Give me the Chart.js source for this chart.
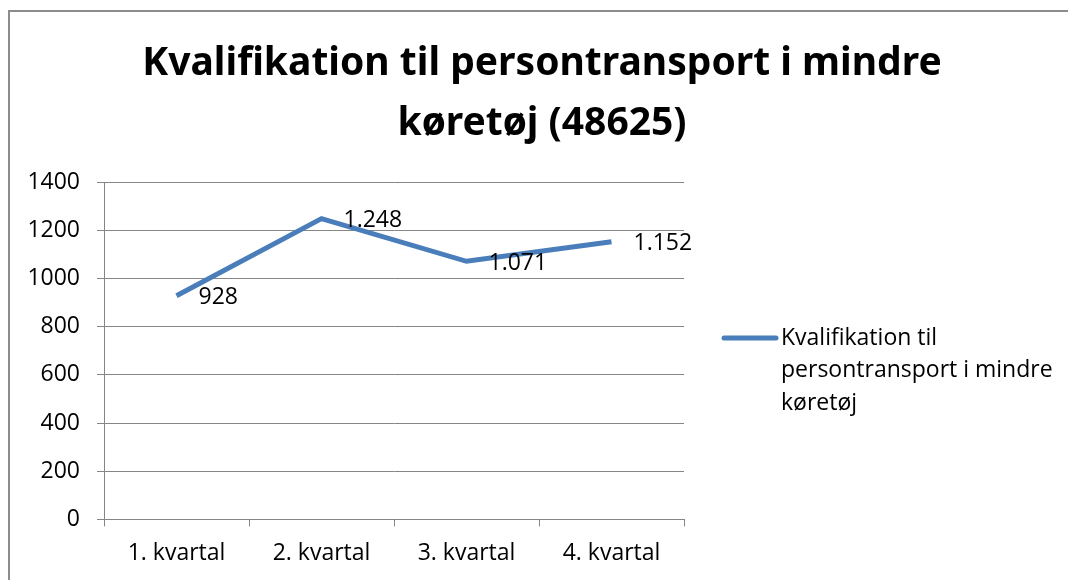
<!DOCTYPE html>
<html>
<head>
<meta charset="utf-8">
<script src="https://cdn.jsdelivr.net/npm/chart.js@4"></script>
<style>
    html, body { margin: 0; padding: 0; background: #fff; overflow: hidden; }
    #wrap { width: 1068px; height: 580px; position: relative; }
</style>
</head>
<body>
<div id="wrap"><canvas id="chart" width="1068" height="580"></canvas></div>
<script>
// chart values
const categories = ['1. kvartal', '2. kvartal', '3. kvartal', '4. kvartal'];
const seriesName = 'Kvalifikation til persontransport i mindre køretøj';
const seriesValues = [928, 1248, 1071, 1152];
const yTicks = [0, 200, 400, 600, 800, 1000, 1200, 1400];
const titleLines = ['Kvalifikation til persontransport i mindre', 'køretøj (48625)'];
const legendLines = ['Kvalifikation til', 'persontransport i mindre', 'køretøj'];

const lineColor = '#4A7EBB';
const gridColor = '#868686';
const fontFamily = '"Open Sans", "Liberation Sans", sans-serif';
const titleFont = 'bold 39px "Noto Sans", "Liberation Sans", sans-serif';

// danish thousands separator
function formatNumber(n) {
    return n.toString().replace(/\B(?=(\d{3})+(?!\d))/g, '.');
}

// outer frame, like the office chart border
const framePlugin = {
    id: 'frame',
    beforeDraw(chart) {
        const ctx = chart.ctx;
        ctx.save();
        ctx.fillStyle = '#fff';
        ctx.fillRect(0, 0, chart.width, chart.height);
        ctx.strokeStyle = '#8c8c8c';
        ctx.lineWidth = 2;
        ctx.strokeRect(9, 11, chart.width + 20, chart.height + 20);
        ctx.restore();
    }
};

// two line title, centred over the whole chart
const titlePlugin = {
    id: 'bigTitle',
    afterDraw(chart) {
        const ctx = chart.ctx;
        ctx.save();
        ctx.font = titleFont;
        ctx.fillStyle = '#000';
        ctx.textAlign = 'center';
        ctx.textBaseline = 'alphabetic';
        titleLines.forEach((line, i) => {
            ctx.fillText(line, 542, 75 + i * 60);
        });
        ctx.restore();
    }
};

// value labels right of each point
const labelPlugin = {
    id: 'pointLabels',
    afterDatasetsDraw(chart) {
        const ctx = chart.ctx;
        const meta = chart.getDatasetMeta(0);
        ctx.save();
        ctx.font = '23px ' + fontFamily;
        ctx.fillStyle = '#000';
        ctx.textAlign = 'left';
        ctx.textBaseline = 'middle';
        meta.data.forEach((pt, i) => {
            ctx.fillText(formatNumber(seriesValues[i]), pt.x + 22, pt.y + 2);
        });
        ctx.restore();
    }
};

// legend on the right, wrapped text
const legendPlugin = {
    id: 'sideLegend',
    afterDraw(chart) {
        const ctx = chart.ctx;
        const area = chart.chartArea;
        const x = area.right + 38;
        const y = 338;
        ctx.save();
        ctx.strokeStyle = lineColor;
        ctx.lineWidth = 5;
        ctx.lineCap = 'round';
        ctx.beginPath();
        ctx.moveTo(x + 2, y);
        ctx.lineTo(x + 54, y);
        ctx.stroke();
        ctx.font = '23px ' + fontFamily;
        ctx.fillStyle = '#000';
        ctx.textBaseline = 'middle';
        legendLines.forEach((line, i) => {
            ctx.fillText(line, x + 59, y + i * 32.5);
        });
        ctx.restore();
    }
};

new Chart(document.getElementById('chart'), {
    type: 'line',
    data: {
        labels: categories,
        datasets: [{
            label: seriesName,
            data: seriesValues,
            borderColor: lineColor,
            backgroundColor: lineColor,
            borderWidth: 5,
            pointRadius: 0,
            tension: 0,
        }]
    },
    options: {
        responsive: false,
        animation: false,
        layout: {
            padding: {left: 8, right: 384, top: 182, bottom: 0}
        },
        plugins: {
            legend: {display: false},
            tooltip: {enabled: false},
            title: {display: false},
        },
        scales: {
            x: {
                offset: true,
                grid: {
                    offset: true,
                    drawOnChartArea: false,
                    drawTicks: true,
                    tickLength: 7,
                    color: gridColor,
                },
                border: {color: gridColor, width: 1},
                ticks: {
                    color: '#000',
                    font: {family: fontFamily, size: 23},
                    padding: 13,
                },
            },
            y: {
                min: 0,
                max: 1400,
                afterBuildTicks(scale) {
                    scale.ticks = yTicks.map(v => ({value: v}));
                },
                afterFit(scale) {
                    scale.width = 96;
                },
                grid: {
                    color: gridColor,
                    tickLength: 7,
                },
                border: {color: gridColor, width: 1},
                ticks: {
                    color: '#000',
                    font: {family: fontFamily, size: 23},
                    padding: 17,
                    callback: (value) => String(value),
                },
            },
        },
    },
    plugins: [framePlugin, titlePlugin, labelPlugin, legendPlugin],
});
</script>
</body>
</html>
